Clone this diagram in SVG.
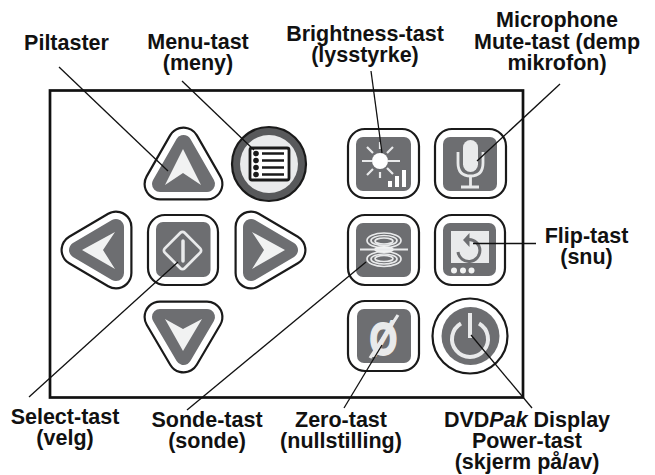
<svg xmlns="http://www.w3.org/2000/svg" width="655" height="475" viewBox="0 0 655 475">
<style>
text{font-family:"Liberation Sans",Arial,sans-serif;font-weight:700;font-size:21.5px;fill:#111;text-anchor:middle}
.o{fill:#fff;stroke:#1a1a1a;stroke-width:2.2}
.g{fill:#6d6e71}
.w{fill:none;stroke:#e9eaeb;stroke-width:2.8}
.wf{fill:#f1f2f2}
.l{stroke:#111;stroke-width:1.3;fill:none}
.t1{fill:#1a1a1a;stroke:#1a1a1a;stroke-width:33;stroke-linejoin:round}
.t2{fill:#fff;stroke:#fff;stroke-width:28.6;stroke-linejoin:round}
.t3{fill:#6d6e71;stroke:#6d6e71;stroke-width:16;stroke-linejoin:round}
</style>
<rect width="655" height="475" fill="#fff"/>
<rect id="frame" x="50" y="90.500" width="473" height="307" fill="#fff" stroke="#111" stroke-width="2.700"/>
<defs>
<polygon id="tu" points="183.500,143 207,184 160,184"/>
<polygon id="tl" points="77,250 116,227 116,273"/>
<polygon id="tr" points="290,250 251,227 251,273"/>
<polygon id="td" points="183.500,357 207,317 160,317"/>
</defs>
<g id="btn-up"><use href="#tu" class="t1"/><use href="#tu" class="t2"/><use href="#tu" class="t3"/><path class="wf" d="M183 149L201 185L183 173L165 185Z"/></g>
<g id="btn-menu"><circle cx="269" cy="164" r="37" fill="#58595b" stroke="#1a1a1a" stroke-width="2.200"/><circle cx="269" cy="164" r="29" fill="#e9eaeb"/><rect x="250" y="148" width="39" height="32" rx="2" fill="#fff" stroke="#1a1a1a" stroke-width="2.800"/><g fill="#1a1a1a"><circle cx="256" cy="153.500" r="2.800"/><circle cx="256" cy="160.500" r="2.800"/><circle cx="256" cy="167.500" r="2.800"/><circle cx="256" cy="174.500" r="2.800"/></g><path d="M262 153.500H284M262 160.500H284M262 167.500H284M262 174.500H284" stroke="#1a1a1a" stroke-width="2.400"/></g>
<g id="btn-left"><use href="#tl" class="t1"/><use href="#tl" class="t2"/><use href="#tl" class="t3"/><path class="wf" d="M82 250L115 232L103 250L115 269Z"/></g>
<g id="btn-select"><rect class="o" x="148" y="215" width="70" height="70" rx="17"/><rect class="g" x="156" y="222" width="54.500" height="55" rx="7"/><rect x="168.500" y="236.500" width="28" height="28" rx="3" transform="rotate(45 182.500 250.500)" class="w"/><path d="M183 241V261" stroke="#e9eaeb" stroke-width="3.500" stroke-linecap="round"/></g>
<g id="btn-right"><use href="#tr" class="t1"/><use href="#tr" class="t2"/><use href="#tr" class="t3"/><path class="wf" d="M285 250L252 232L264 250L252 269Z"/></g>
<g id="btn-down"><use href="#td" class="t1"/><use href="#td" class="t2"/><use href="#td" class="t3"/><path class="wf" d="M165 319L183 329L202 319L183 351Z"/></g>
<g id="btn-brightness"><rect class="o" x="348" y="129" width="71" height="69" rx="17"/><rect class="g" x="356" y="137" width="55" height="54" rx="7"/><circle cx="380" cy="161" r="8" fill="#fff"/><path d="M380 142V149M380 172V178M362 161H372M388 161H400M367 147L373 153M393 147L387 153M367 175L373 169M393 174L387 168" stroke="#e9eaeb" stroke-width="2.200"/><path d="M388 181h4v6h-4zM395 176h4v11h-4zM402 170h4v17h-4z" fill="#fff"/></g>
<g id="btn-mic"><rect class="o" x="435" y="129" width="71" height="69" rx="17"/><rect class="g" x="443" y="137" width="54" height="54" rx="7"/><rect x="463" y="140" width="15" height="32" rx="7.500" fill="#e9eaeb"/><path d="M458 152V163Q458 176 470.500 176Q483 176 483 163V152" class="w"/><path d="M470.500 176V187M461 187H479" class="w"/></g>
<g id="btn-probe"><rect class="o" x="348" y="215" width="71" height="70" rx="17"/><rect class="g" x="356" y="223" width="55" height="54" rx="7"/><g class="w" style="stroke-width:1.700"><ellipse cx="384" cy="240.500" rx="17" ry="7.500"/><ellipse cx="384" cy="240.500" rx="13" ry="5"/><ellipse cx="384" cy="241" rx="9" ry="3"/><ellipse cx="384" cy="259" rx="17" ry="7.500"/><ellipse cx="384" cy="259" rx="13" ry="5"/><ellipse cx="384" cy="258.500" rx="9" ry="3"/></g><ellipse cx="384" cy="249.500" rx="10" ry="3.500" class="wf"/><path d="M360 249.500H408" class="w" style="stroke-width:2"/></g>
<g id="btn-flip"><rect class="o" x="435" y="215" width="70" height="70" rx="17"/><rect class="g" x="443" y="223" width="53" height="53" rx="7"/><rect x="451" y="231" width="38" height="32" fill="#e9eaeb"/><path d="M469 239.500A11 11 0 1 1 458 252" fill="none" stroke="#6d6e71" stroke-width="3"/><path d="M463 240L469.500 233V247Z" fill="#6d6e71"/><g class="wf"><circle cx="454" cy="270.500" r="3"/><circle cx="463" cy="270.500" r="3"/><circle cx="471.500" cy="270.500" r="3"/></g></g>
<g id="btn-zero"><rect class="o" x="348" y="301" width="71" height="70" rx="17"/><rect class="g" x="357" y="309" width="54" height="54" rx="7"/><text transform="translate(383.500 355) scale(.76 1)" style="font-size:47px;fill:#e9eaeb;stroke:#e9eaeb;stroke-width:1.800">Ø</text><path d="M370 358L398 315" stroke="#e9eaeb" stroke-width="3.200"/></g>
<g id="btn-power"><circle cx="470" cy="336" r="37.500" class="o"/><circle cx="470.500" cy="336" r="29" class="g"/><path d="M461 323.400A18 18 0 1 0 479 323.400" fill="none" stroke="#e9eaeb" stroke-width="4"/><path d="M470 313V338" stroke="#e9eaeb" stroke-width="4"/></g>
<g id="connectors" class="l">
<path d="M59 67L168 171"/>
<path d="M182 81L254 150"/>
<path d="M371 71L382 153"/>
<path d="M560 84L477 161"/>
<path d="M473 243.500H536"/>
<path d="M382 345L344 408"/>
<path d="M471 335L532 408"/>
<path d="M366 262L187 410"/>
<path d="M178 262L29 397"/>
</g>
<g id="labels">
<text x="66.500" y="50">Piltaster</text>
<text y="49"><tspan x="198">Menu-tast</tspan><tspan x="198" dy="21">(meny)</tspan></text>
<text y="41"><tspan x="365">Brightness-tast</tspan><tspan x="365" dy="21">(lysstyrke)</tspan></text>
<text y="27"><tspan x="557">Microphone</tspan><tspan x="557" dy="21.500">Mute-tast (demp</tspan><tspan x="557" dy="21.500">mikrofon)</tspan></text>
<text y="243"><tspan x="586.500">Flip-tast</tspan><tspan x="586.500" dy="21">(snu)</tspan></text>
<text y="424"><tspan x="65">Select-tast</tspan><tspan x="65" dy="21">(velg)</tspan></text>
<text y="427"><tspan x="207">Sonde-tast</tspan><tspan x="207" dy="20.500">(sonde)</tspan></text>
<text y="427"><tspan x="341">Zero-tast</tspan><tspan x="341" dy="20.500">(nullstilling)</tspan></text>
<text y="427"><tspan x="527">DVD<tspan font-style="italic">Pak</tspan> Display</tspan><tspan x="527" dy="21">Power-tast</tspan><tspan x="527" dy="21">(skjerm på/av)</tspan></text>
</g>
</svg>
